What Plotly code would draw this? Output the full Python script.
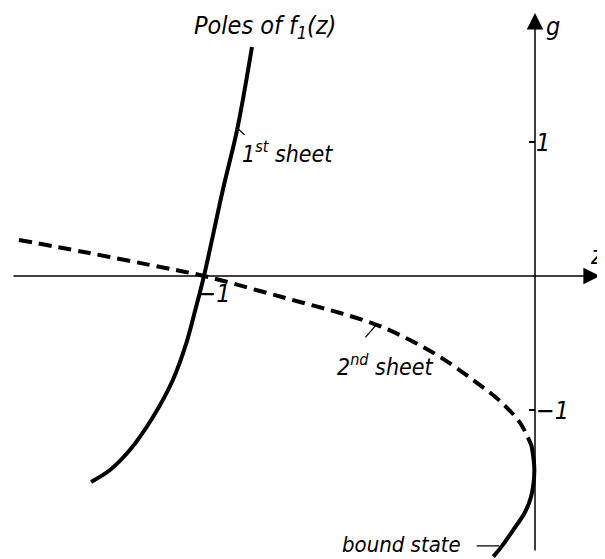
import plotly.graph_objects as go

# pole trajectories (z, g)
first_z = [-0.855, -0.900, -0.943, -1.000, -1.027, -1.054, -1.094, -1.154, -1.224, -1.284, -1.341]
first_g = [1.709, 1.090, 0.642, 0.000, -0.261, -0.507, -0.776, -1.052, -1.299, -1.448, -1.537]

second_z = [-1.559, -1.363, -1.163, -1.000, -0.831, -0.710, -0.589, -0.477, -0.378,
            -0.287, -0.187, -0.106, -0.045, -0.009]
second_g = [0.269, 0.179, 0.082, 0.000, -0.112, -0.194, -0.276, -0.366, -0.478,
            -0.604, -0.776, -0.933, -1.097, -1.276]

bound_z = [-0.010, -0.002, -0.012, -0.032, -0.066, -0.101, -0.126]
bound_g = [-1.274, -1.448, -1.647, -1.771, -1.896, -2.020, -2.095]

g_ticks = [1, -1]
g_ticktext = ["1", "\u22121"]
z_ticks = [-1]
z_ticktext = ["\u22121"]

# the page body adds an 8px margin, ranges are set so the visible part lines up
x_range = [-1.592, 0.2356]
y_range = [-2.172, 2.000]

FONT = "Liberation Sans Narrow, DejaVu Sans Condensed, Arial Narrow, sans-serif"


def lbl(size=24):
    return dict(family=FONT, size=size, color="black", style="italic")


fig = go.Figure()

fig.add_trace(go.Scatter(x=first_z, y=first_g, mode="lines", line_shape="spline",
                         line=dict(color="black", width=4), showlegend=False))
fig.add_trace(go.Scatter(x=second_z, y=second_g, mode="lines", line_shape="spline",
                         line=dict(color="black", width=4, dash="13px,7px"), showlegend=False))
fig.add_trace(go.Scatter(x=bound_z, y=bound_g, mode="lines", line_shape="spline",
                         line=dict(color="black", width=4), showlegend=False))

annotations = [
    # axes with arrow heads
    dict(x=0.196, y=0, ax=-1.580, ay=0, axref="x", ayref="y", xref="x", yref="y",
         text="", showarrow=True, arrowhead=2, arrowsize=2.2, arrowwidth=1.5, arrowcolor="black"),
    dict(x=0, y=1.963, ax=0, ay=-2.06, axref="x", ayref="y", xref="x", yref="y",
         text="", showarrow=True, arrowhead=2, arrowsize=2.2, arrowwidth=1.5, arrowcolor="black"),
    dict(x=0.028, y=1.86, text="g", showarrow=False, xanchor="left", yanchor="middle", font=lbl(25)),
    dict(x=0.160, y=0.15, text="z", showarrow=False, xanchor="left", yanchor="middle", font=lbl(25)),
    # labels
    dict(x=-0.816, y=1.86, text="Poles of f<sub>1</sub>(z)", showarrow=False,
         xanchor="center", yanchor="middle", font=lbl(25)),
    dict(x=-0.891, y=0.925, text="1<sup>st</sup> sheet", showarrow=False,
         xanchor="left", yanchor="middle", font=lbl(23)),
    dict(x=-0.604, y=-0.664, text="2<sup>nd</sup> sheet", showarrow=False,
         xanchor="left", yanchor="middle", font=lbl(23)),
    dict(x=-0.2175, y=-2.007, text="bound state", showarrow=False,
         xanchor="right", yanchor="middle", font=lbl(22)),
    # leader lines
    dict(x=-0.900, y=1.104, ax=9, ay=8, text="", showarrow=True, arrowhead=0,
         arrowwidth=1.2, arrowcolor="black"),
    dict(x=-0.477, y=-0.358, ax=-13, ay=15, text="", showarrow=True, arrowhead=0,
         arrowwidth=1.2, arrowcolor="black"),
    dict(x=-0.108, y=-2.015, ax=-24, ay=0, text="", showarrow=True, arrowhead=0,
         arrowwidth=1.2, arrowcolor="black"),
]

fig.update_layout(
    width=605, height=559,
    margin=dict(l=0, r=0, t=0, b=0),
    paper_bgcolor="white", plot_bgcolor="white",
    annotations=annotations,
    xaxis=dict(range=x_range, showgrid=False, zeroline=False, showline=False,
               anchor="free", position=(0 - y_range[0]) / (y_range[1] - y_range[0]),
               tickvals=z_ticks, ticktext=z_ticktext, ticks="",
               ticklabelshift=10, tickfont=lbl(25)),
    yaxis=dict(range=y_range, showgrid=False, zeroline=False, showline=False,
               anchor="free", position=(0 - x_range[0]) / (x_range[1] - x_range[0]),
               side="right", tickvals=g_ticks, ticktext=g_ticktext,
               ticks="inside", ticklen=6, tickwidth=1.5, tickcolor="black",
               tickfont=lbl(25)),
)

fig.write_html("out.html")
